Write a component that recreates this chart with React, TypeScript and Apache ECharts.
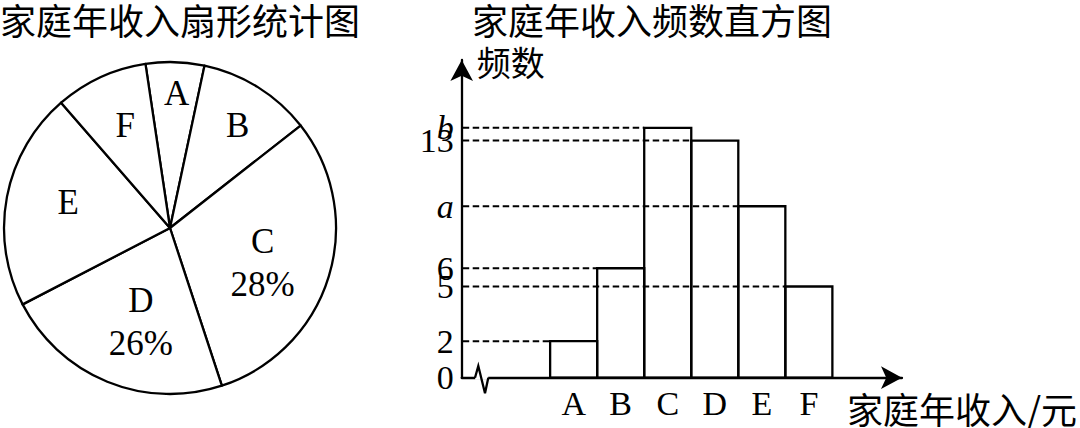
import { useEffect, useRef } from 'react';
import * as echarts from 'echarts';

const SERIF = '"Liberation Serif", "Times New Roman", serif';
const CJK = '"Noto Sans CJK SC", sans-serif';

const PIE_TITLE = '家庭年收入扇形统计图';
const BAR_TITLE = '家庭年收入频数直方图';
const X_NAME = '家庭年收入/元';
const Y_NAME = '频数';

// pie sectors as drawn (degrees of arc), and their labels
const pieNames = ['A', 'B', 'C', 'D', 'E', 'F'];
const pieDegrees = [20.5, 39.9, 109.9, 80.8, 76.4, 32.5];
const pieLabels = ['A', 'B', 'C\n28%', 'D\n26%', 'E', 'F'];
// where each label sits: distance from the centre (px) and bearing (deg, clockwise from 12 o'clock)
const pieLabelRadius = [135, 123, 99, 98, 105, 112];
const pieLabelBearing = [2.8, 33.4, 110.6, 197.3, 284.3, 336.4];

// histogram
const categories = ['A', 'B', 'C', 'D', 'E', 'F'];
const counts = [2, 6, 13.7, 13, 9.4, 5];
const yTickValues = [0, 2, 5, 6, 9.4, 13];
const yTickLabels = ['0', '2', '5', '6', 'a', '13'];
// "b" sits right on top of "13", so it gets its own axis
const yTopValues = [13.7];
const yTopLabels = ['b'];

const X_MIN = -1.88;
const X_MAX = 7.48;
const Y_MAX = 17.42;
const PIE_CENTER = [170, 228];

const tickFormatter = (values: number[], labels: string[]) => (v: number) => {
  const i = values.findIndex(t => Math.abs(t - v) < 1e-6);
  const t = i >= 0 ? labels[i] : '';
  return /^[a-z]$/.test(t) ? `{i|${t}}` : t;
};

const yLabelStyle = {
  margin: 8,
  color: '#000',
  fontFamily: SERIF,
  fontSize: 34,
  hideOverlap: false,
  rich: {
    i: { fontFamily: SERIF, fontSize: 34, fontStyle: 'italic', color: '#000' },
  },
};

export default function App() {
  const ref = useRef<HTMLDivElement | null>(null);

  useEffect(() => {
    if (!ref.current) return;
    const chart = echarts.init(ref.current, null, { renderer: 'svg' });

    chart.setOption({
      animation: false,
      title: [
        {
          text: PIE_TITLE,
          left: 0,
          top: 1,
          padding: 0,
          textStyle: { fontFamily: CJK, fontSize: 36, lineHeight: 36, fontWeight: 'normal', color: '#000' },
        },
        {
          text: BAR_TITLE,
          left: 472,
          top: 1,
          padding: 0,
          textStyle: { fontFamily: CJK, fontSize: 36, lineHeight: 36, fontWeight: 'normal', color: '#000' },
        },
      ],
      grid: { left: 461.7, right: 178, top: 60, bottom: 50.3 },
      xAxis: {
        type: 'value',
        min: X_MIN,
        max: X_MAX,
        name: X_NAME,
        nameLocation: 'end',
        nameGap: 175,
        nameTextStyle: {
          fontFamily: CJK,
          fontSize: 36,
          lineHeight: 36,
          color: '#000',
          align: 'right',
          verticalAlign: 'top',
          padding: [12, 0, 0, 0],
        },
        axisLine: {
          show: true,
          onZero: false,
          symbol: ['none', 'arrow'],
          symbolSize: [17, 21],
          lineStyle: { color: '#000', width: 2.3 },
        },
        axisTick: { show: false },
        splitLine: { show: false },
        axisLabel: {
          customValues: categories.map((_, i) => i + 0.5),
          formatter: (v: number) => categories[Math.floor(v)] ?? '',
          margin: 9,
          color: '#000',
          fontFamily: SERIF,
          fontSize: 34,
          hideOverlap: false,
        },
      },
      yAxis: [
        {
          type: 'value',
          min: 0,
          max: Y_MAX,
          name: Y_NAME,
          nameLocation: 'end',
          nameGap: -1,
          nameTextStyle: {
            fontFamily: CJK,
            fontSize: 34,
            lineHeight: 34,
            color: '#000',
            align: 'left',
            verticalAlign: 'middle',
            padding: [0, 0, 0, 15],
          },
          axisLine: {
            show: true,
            onZero: false,
            symbol: ['none', 'arrow'],
            symbolSize: [17, 21],
            lineStyle: { color: '#000', width: 2.3 },
          },
          axisTick: { show: false },
          splitLine: { show: false },
          axisLabel: {
            ...yLabelStyle,
            customValues: yTickValues,
            formatter: tickFormatter(yTickValues, yTickLabels),
          },
        },
        {
          type: 'value',
          position: 'left',
          min: 0,
          max: Y_MAX,
          axisLine: { show: false, onZero: false },
          axisTick: { show: false },
          splitLine: { show: false },
          axisLabel: {
            ...yLabelStyle,
            customValues: yTopValues,
            formatter: tickFormatter(yTopValues, yTopLabels),
          },
        },
      ],
      series: [
        {
          type: 'pie',
          center: PIE_CENTER,
          radius: [0, 166],
          startAngle: 98.5,
          clockwise: true,
          silent: true,
          itemStyle: { color: '#fff', borderColor: '#000', borderWidth: 2.3 },
          label: {
            show: true,
            position: 'inside',
            rotate: 0,
            color: '#000',
            fontFamily: SERIF,
            fontSize: 35,
            lineHeight: 43,
            formatter: (p: any) => pieLabels[p.dataIndex],
          },
          labelLine: { show: false },
          labelLayout: (p: any) => {
            const R = pieLabelRadius[p.dataIndex];
            const a = (pieLabelBearing[p.dataIndex] * Math.PI) / 180;
            return {
              x: PIE_CENTER[0] + R * Math.sin(a),
              y: PIE_CENTER[1] - R * Math.cos(a),
              align: 'center',
              verticalAlign: 'middle',
            };
          },
          emphasis: { disabled: true },
          data: pieNames.map((name, i) => ({ name, value: pieDegrees[i] })),
        },
        {
          type: 'custom',
          silent: true,
          z: 3,
          data: counts.map((v, i) => [i, v]),
          renderItem: (_params: any, api: any) => {
            const i = api.value(0);
            const v = api.value(1);
            const top = api.coord([i, v]);
            const base = api.coord([i + 1, 0]);
            const axis = api.coord([X_MIN, v]);
            return {
              type: 'group',
              children: [
                {
                  type: 'line',
                  shape: { x1: axis[0] + 1, y1: top[1], x2: top[0], y2: top[1] },
                  style: { stroke: '#000', lineWidth: 2, lineDash: [6.5, 3.5] },
                },
                {
                  type: 'rect',
                  shape: { x: top[0], y: top[1], width: base[0] - top[0], height: base[1] - top[1] },
                  style: { fill: 'none', stroke: '#000', lineWidth: 2.3 },
                },
              ],
            };
          },
        },
        {
          // axis break mark
          type: 'custom',
          silent: true,
          z: 4,
          data: [[X_MIN, 0]],
          renderItem: (_params: any, api: any) => {
            const o = api.coord([api.value(0), api.value(1)]);
            const x = o[0];
            const y = o[1];
            return {
              type: 'group',
              children: [
                {
                  type: 'line',
                  shape: { x1: x + 13.5, y1: y, x2: x + 26.5, y2: y },
                  style: { stroke: '#fff', lineWidth: 4 },
                },
                {
                  type: 'polyline',
                  shape: {
                    points: [
                      [x + 13.3, y],
                      [x + 16.6, y - 11.7],
                      [x + 23.3, y + 15.6],
                      [x + 26.6, y],
                    ],
                  },
                  style: { fill: 'none', stroke: '#000', lineWidth: 2.3 },
                },
              ],
            };
          },
        },
      ],
    });

    const handleResize = () => chart.resize();
    window.addEventListener('resize', handleResize);
    return () => {
      window.removeEventListener('resize', handleResize);
      chart.dispose();
    };
  }, []);

  return (
    <div
      ref={ref}
      style={{ position: 'fixed', left: 0, top: 0, width: 1080, height: 428, background: '#fff' }}
    />
  );
}
